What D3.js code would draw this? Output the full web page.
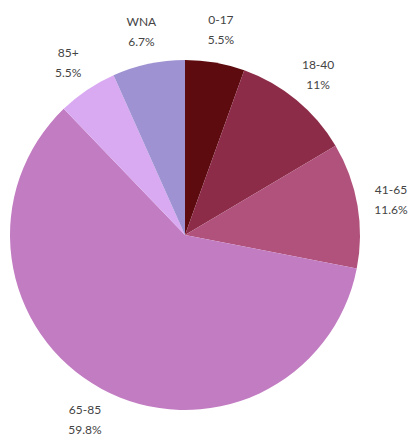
<!DOCTYPE html>
<html>
<head>
<meta charset="utf-8">
<script src="https://cdn.jsdelivr.net/npm/d3@7"></script>
<style>
  html, body { margin: 0; padding: 0; background: #fff; }
  svg { display: block; }
</style>
</head>
<body>
<svg id="chart" width="419" height="440"></svg>
<script>
// Age groups, share of total (%), clockwise from 12 o'clock
const categories = ["0-17", "18-40", "41-65", "65-85", "85+", "WNA"];
const shares = [5.5, 11, 11.6, 59.8, 5.5, 6.7];
const shareLabels = ["5.5%", "11%", "11.6%", "59.8%", "5.5%", "6.7%"];
const colors = ["#5e0b10", "#8c2c48", "#b0527c", "#c27cc2", "#d9aaf2", "#9f92d2"];

const width = 419, height = 440;
const cx = 185, cy = 235, radius = 175, labelRadius = 209;

const svg = d3.select("#chart");
const g = svg.append("g").attr("transform", `translate(${cx},${cy})`);

const data = categories.map((c, i) => ({ cat: c, value: shares[i], label: shareLabels[i], color: colors[i] }));

const pie = d3.pie().value(d => d.value).sort(null);
const arcs = pie(data);

const arc = d3.arc().innerRadius(0).outerRadius(radius);
const labelArc = d3.arc().innerRadius(labelRadius).outerRadius(labelRadius);

g.selectAll("path.slice")
  .data(arcs)
  .join("path")
  .attr("class", "slice")
  .attr("d", arc)
  .attr("fill", d => d.data.color);

// Two-line labels: category name above, share below
const labels = g.selectAll("text.lbl")
  .data(arcs)
  .join("text")
  .attr("class", "lbl")
  .attr("transform", d => `translate(${labelArc.centroid(d)})`)
  .attr("text-anchor", "middle")
  .attr("font-family", "Lato, 'Open Sans', sans-serif")
  .attr("font-size", 12)
  .attr("fill", "#444");

labels.append("tspan")
  .attr("x", 0)
  .attr("y", -5)
  .text(d => d.data.cat);

labels.append("tspan")
  .attr("x", 0)
  .attr("y", 15)
  .text(d => d.data.label);
</script>
</body>
</html>
